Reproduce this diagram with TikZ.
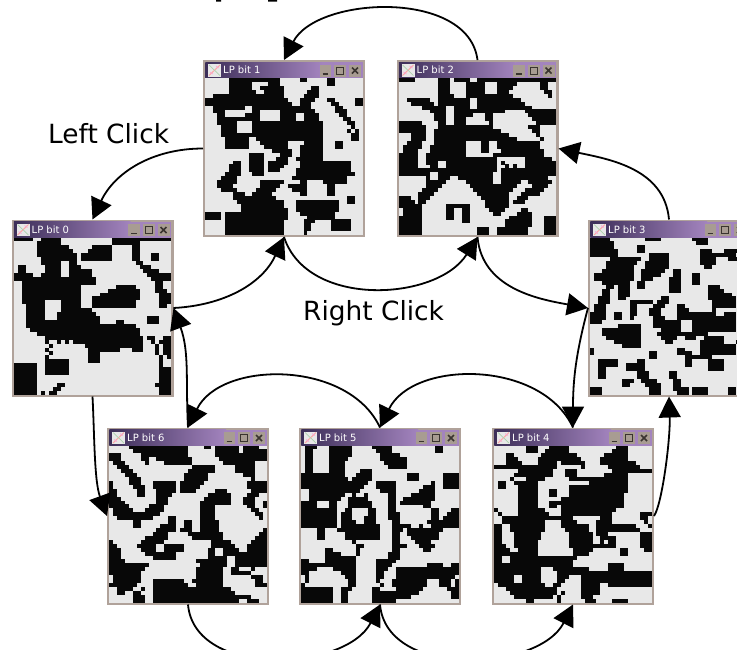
\documentclass[tikz,border=0pt]{standalone}
\usepackage{fontspec}
\setmainfont{DejaVu Sans}
\usetikzlibrary{arrows.meta,calc}
\definecolor{framec}{HTML}{B0A29A}
\definecolor{lightc}{HTML}{E8E8E8}
\definecolor{blackc}{HTML}{080808}
\definecolor{tdark}{HTML}{3C2E58}
\definecolor{tlight}{HTML}{A384BE}
\definecolor{btnc}{HTML}{A89C92}
\definecolor{btnd}{HTML}{3A3430}
\tikzset{
  winframe/.style={draw=none,fill=framec,minimum width=162pt,minimum height=177pt,inner sep=0pt,outer sep=0pt},
  conn/.style={draw=black,line width=1.8pt,-{Triangle[length=21pt,width=22pt]}},
  lab/.style={font=\fontsize{26.4}{30}\selectfont,inner sep=0pt,anchor=base west},
  ttl/.style={font=\fontsize{10}{12}\selectfont,text=white,inner sep=0pt,anchor=base west}
}
\newcommand{\lpwin}[5]{%
  \node[winframe] (#1) at (#2,#3) {};
  \begin{scope}[shift={(#1.north west)}]
    \shade[left color=tdark,right color=tlight] (2.3,-2) rectangle (119,-18);
    \fill[tlight] (119,-2) rectangle (159.7,-18);
    \fill[lightc] (5,-4) rectangle (18,-16.5);
    \draw[red!35!white,line width=1pt] (6,-15.5) -- (17,-5);
    \draw[green!30!gray!50!white,line width=.7pt] (6,-5) -- (17,-15.5);
    \draw[magenta!35!white,line width=.7pt] (7,-12) -- (10,-14) (13,-6) -- (16,-8);
    \node[ttl] (#1t) at (20,-13.6) {#4};
    \fill[btnc] (116.5,-4.5) rectangle (128,-16.5);
    \fill[btnc] (131,-4.5) rectangle (143,-16.5);
    \fill[btnc] (146,-4.5) rectangle (158,-16.5);
    \draw[btnd,line width=1.3pt] (119.5,-14) -- (125,-14);
    \draw[btnd,line width=.9pt] (133.5,-7) rectangle (140.5,-14);
    \draw[btnd,line width=1.6pt] (149,-7.5) -- (155,-13.5) (155,-7.5) -- (149,-13.5);
    \fill[lightc] (2.3,-18) rectangle (159.7,-175.2);
    \foreach \rowruns [count=\rr from 0] in {#5} {
      \foreach \aa/\bb in \rowruns {
        \fill[blackc] ({2.3+\aa*3.93},{-18-\rr*3.93}) rectangle ({2.3+\bb*3.93},{-18-(\rr+1)*3.93-0.06});
      }
    }
  \end{scope}
}
\begin{document}
\begin{tikzpicture}[x=1pt,y=1pt]
\useasboundingbox (0,0) rectangle (737,-649);
\fill[white] (0,0) rectangle (737,-649);
\fill[black] (216,0) rectangle (221,-1.5) (268,-1.5) rectangle (277,0);

\lpwin{w1}{284}{-148.5}{LP bit 1}{
{6/19,24/26,31/33},{6/12,16/19,31/33},{6/12,14/20,27/29},{6/13,15/20,26/29},{2/20,25/29},
{0/21,24/28,31/33,38/40},{0/22,24/27,32/34,38/40},{2/10,12/27,33/35},{2/5,12/14,19/28,33/36},{3/5,10/14,19/23,25/29,34/36},
{3/14,19/23,25/29,35/37},{3/8,12/30,36/38},{4/8,12/30,37/38},{4/8,12/30,36/37,38/39},{4/30,37/39},
{5/11,13/30,37/39},{5/11,14/21,25/30,33/35},{5/11,15/21,24/30,33/35},{17/22,24/30},{11/15,19/22,24/30},
{11/15,18/21,23/30},{7/9,11/15,16/21,24/37},{6/9,11/15,16/20,24/37},{6/9,11/15,16/19,23/37},{5/9,12/15,23/38},
{4/8,22/36},{3/8,14/20,24/26,30/36},{3/7,14/19,21/26,31/33},{4/8,13/18,22/26,31/33},{7/10,12/17,24/26,31/33},
{7/18,36/38},{8/20,23/34,36/38},{9/20,23/34},{9/21,23/34},{0/4,5/21,24/33},
{0/4,5/21,26/33},{5/20,25/28,32/37},{5/20,25/27,32/37},{5/20,25/27,32/37},{5/20,25/26}}

\lpwin{w2}{477.5}{-148.5}{LP bit 2}{
{0/4,10/13,14/18,20/40},{10/13,17/22,25/30,36/38},{10/13,17/22,25/29,36/38},{10/13,17/22,25/28,37/39},{10/14,17/29,38/39},
{2/8,10/18,20/31},{3/9,10/18,20/32},{6/12,14/18,20/34},{8/12,14/27,32/40},{9/12,14/19,22/24,33/40},
{9/12,14/17,22/24,34/40},{0/6,10/12,14/17,23/24,35/40},{0/7,10/24,33/36},{0/7,9/26,34/36},{3/7,9/28,35/36},
{3/7,9/30,36/37},{2/6,9/17,21/23,25/36},{1/6,8/17,21/23,25/36},{1/5,8/17,21/23,26/37},{0/5,7/17,24/37},
{0/5,7/25,32/39},{0/5,7/10,12/25,26/27,32/40},{0/5,8/10,12/25,27/28,29/30,32/40},{0/25,26/40},{0/8,10/24,26/40},
{7/8,10/13,15/24,26/38},{7/12,17/24,26/31,33/39},{7/11,18/30,34/38},{6/10,19/29,32/37},{5/9,20/28,31/36},
{0/3,5/8,21/28,30/33},{0/4,5/7,22/28,29/32},{0/6,12/18,22/28},{1/6,12/14,16/18,23/27,31/33},{1/6,12/14,16/18,24/26,30/34},
{0/6,12/14,16/18,28/34,37/40},{0/6,16/18,27/34,37/40},{0/6,27/34,37/40},{0/6,20/23,25/33,37/40},{0/6,20/23,25/33,37/40}}

\lpwin{w0}{92.5}{-308}{LP bit 0}{
{0/5,7/8,8/12,25/40},{6/12,25/32},{6/14,20/25,30/32},{6/15,19/25,30/32},{6/16,17/25,30/32,35/37},
{7/16,17/25,30/32,35/37},{7/12,14/16,31/33},{1/3,8/12,14/17,32/35},{1/3,8/12,14/20,33/37},{0/5,7/12,14/20,34/38,36/40},
{0/21,35/40},{2/21,36/38},{2/17,26/31,36/38},{2/17,24/32,36/39},{2/17,22/32,37/40},
{2/17,20/32,37/40},{2/8,12/17,20/31,37/40},{3/8,12/17,20/31,37/39},{3/8,12/20},{3/8,11/21},
{3/8,11/22,34/37},{3/22,26/28,34/37},{3/26,26/31},{4/32},{6/32},
{8/33,34/36,38/40},{8/9,11/12,13/14,15/33,35/36,37/40},{9/10,18/33,36/37,38/40},{8/9,19/27,30/33,36/37,38/40},{9/10,19/22,36/37,38/40},
{8/9,19/22,37/38,39/40},{8/14,19/22,37/38},{0/6,8/14,37/38},{0/6,8/14,37/40},{0/6,8/14,37/40},
{0/6,37/40},{0/6,37/40},{0/6,11/13,36/40},{0/6,10/12,37/40},{0/6,7/8,9/11,37/40}}

\lpwin{w3}{669}{-308}{LP bit 3}{
{0/5,14/18,26/30},{0/6,27/30},{0/6,12/14},{0/7,12/14,28/31,34/38},{0/7,15/20,28/37},
{5/13,15/20,28/32,35/38},{4/12,14/20,28/32},{4/11,14/20,29/31},{3/11,13/19,21/23},{1/11,13/18,21/23,26/28},
{1/11,13/16,20/23,26/28},{3/10,12/14,20/23,26/28},{4/6,7/10,12/14,20/23,30/33},{3/5,7/10,20/23,30/34},{3/5,7/10,30/36},
{2/5,7/9,18/20,30/37},{2/5,10/16,17/20,31/37},{1/4,10/12,16/19,22/24,31/37},{1/4,10/12,15/18,22/25,31/32},{0/4,6/8,10/12,15/18,22/32,34/37},
{0/4,6/8,10/11,16/19,22/37},{0/3,16/23,26/37},{7/13,16/23,26/37},{3/13,18/23,26/37},{3/13,17/30},
{4/13,18/22,24/27,29/34},{6/13,19/21,28/34,37/38},{8/13,28/37},{0/1,22/24,28/37},{0/1,15/17,22/26,28/37},
{15/17,24/31},{2/7,12/14,24/26,30/34},{2/7,9/14,24/26,30/34},{2/4,9/14,30/34},{2/4,12/15,20/22},
{2/4,12/15,20/22},{8/11,13/17,21/23},{8/10,14/18,21/23},{0/3,15/18,21/25,26/30,35/37},{0/3,15/18,22/25,26/30,35/37}}

\lpwin{w6}{188}{-516}{LP bit 6}{
{5/20,24/26,27/33,34/38},{6/20,27/33,34/40},{0/3,8/20,27/40},{0/3,8/10,12/21,28/40},{1/4,9/10,14/21,29/37},
{2/5,21/27,32/37},{3/6,20/27,32/37},{4/7,19/25,34/37},{5/8,19/25,36/37},{0/1,5/8,11/17,18/24,35/40},
{0/1,6/9,11/17,18/23,35/40},{0/2,7/9,12/17,18/22,27/30,36/40},{0/2,7/9,12/16,25/31,35/38},{0/3,12/15,24/31,34/37},{0/4,12/15,23/31,34/37,39/40},
{0/5,10/14,23/27,35/37,39/40},{1/6,9/14,23/27,36/38},{1/13,23/27,37/39},{2/11,15/17,23/27,38/39},{6/8,15/17,19/21,23/28},
{6/8,13/17,19/21,23/28},{12/17,18/21,23/28,39/40},{11/15,20/21,21/29,38/40},{9/15,21/29,37/40},{0/1,8/14,26/31,36/40},
{0/2,7/12,14/19,26/32,35/40},{0/3,8/12,14/19,25/27,29/33,35/40},{0/3,9/17,25/27,29/40},{0/3,11/17,25/30,32/40},{0/4,22/30,32/40},
{0/10,23/30,32/40},{0/9,22/29,31/33,36/37},{0/8,22/29,31/36},{1/8,22/29,36/39},{1/8,11/19,21/29,37/39},
{0/7,11/20,22/29,37/40},{2/6,8/9,11/31},{2/4,6/8,11/32},{6/9,11/36},{6/9,11/33,35/38}}

\lpwin{w5}{380}{-516}{LP bit 5}{
{1/4,7/13,18/23,34/36},{1/3,7/13,19/23,34/36},{1/3,7/13,20/25},{1/3,7/12,20/27},{1/3,7/11,21/27},
{1/3,7/11,22/27},{1/3,7/11,15/18},{0/11,14/18,27/30,36/40},{0/12,13/18,27/30,36/40},{0/17,19/24,33/34,36/40},
{0/16,19/24,31/34,36/40},{2/15,20/24,30/34},{2/11,13/14,16/17,22/24,28/34},{2/10,12/17,22/24,26/34},{0/4,7/9,12/18,22/24,25/33},
{0/4,7/9,12/18,22/24,31/33},{0/9,11/13,17/19,22/24,33/35,38/40},{0/9,10/13,17/19,22/25,33/35,37/40},{0/9,10/13,16/19,22/25,33/35,36/40},{0/9,10/14,16/19,23/25,32/40},
{0/9,10/20,23/26,26/28,30/31,33/40},{4/6,9/20,23/26,27/36},{4/6,11/20,23/25,27/35},{4/6,11/20,23/25,28/35},{13/14,23/25,29/33},
{14/16,23/27,30/34},{6/8,14/15,23/25,31/33},{6/10,14/15,22/25},{6/14,22/25},{0/2,6/14,19/24},
{0/14,19/23,32/36,38/40},{0/4,8/14,19/22,24/40},{0/2,10/14,19/21,24/40},{1/2,11/14,19/21,24/39},{1/2,12/14,19/20,23/32,35/38,39/40},
{0/1,12/14,20/21,23/32,35/38,39/40},{0/8,10/13,18/20,24/31,37/40},{0/8,10/12,18/24,24/30,38/40},{0/8,10/12,18/24,24/28,38/40},{0/8,10/12,18/24}}

\lpwin{w4}{573}{-516}{LP bit 4}{
{8/11,14/19,31/34},{8/11,13/19,30/34},{3/5,12/21,28/34},{3/6,11/22,27/34},{3/7,11/16,17/23,27/36},
{0/16,22/23,29/37},{6/15,18/21,30/40},{5/15,18/21,28/34},{4/5,8/13,19/34},{1/3,5/11,24/34},
{1/3,6/11,19/34},{6/11,14/16,19/34},{6/11,14/16,19/33},{6/11,17/33},{6/11,14/17,17/33},
{6/11,14/16,17/33},{0/1,6/13,17/31},{1/2,6/14,17/30,37/40},{2/20,27/30,37/39},{2/13,17/21,26/30,38/39},
{0/2,4/13,17/24,26/36,39/40},{0/2,4/13,18/24,26/37},{0/2,5/12,19/25,26/29,37/40},{0/2,5/12,19/25,27/29,29/31,37/40},{0/2,5/11,19/25,27/28,29/31,37/40},
{0/3,5/11,19/31,37/40},{0/4,6/11,20/25,32/34,38/40},{0/11,20/24,32/34},{0/2,4/21},{0/2,4/20},
{0/20,29/33},{0/12,15/22,22/24,29/33},{0/12,16/40},{0/5,7/12,16/19,22/40},{0/5,7/12,16/18,22/40},
{1/13,15/17,22/27,29/40},{3/16,22/27},{4/16,17/18,22/27},{5/15,16/17,22/25},{8/10,16/17,23/26,30/34}}

\draw[conn] (w2.north) to[out=97,in=63,looseness=.95] (w1.north);
\draw[conn] (w1.west) to[out=180,in=65] (w0.north);
\draw[conn] (w3.north) to[out=95,in=-12] (w2.east);
\draw[conn] (w0.east) to[out=3,in=-115] (w1.south);
\draw[conn] (w1.south) to[out=-72,in=-122] (w2.south);
\draw[conn] (w2.south) to[out=-85,in=170] (w3.west);
\draw[conn] (w3.west) to[out=-105,in=90] (w4.north);
\draw[conn] (w4.east) to[out=55,in=-88,out looseness=.3,in looseness=.9] (w3.south);
\draw[conn] (w4.north) to[out=115,in=64] (w5.north);
\draw[conn] (w5.north) to[out=115,in=64] (w6.north);
\draw[conn] (w6.north) to[out=93,in=-70] (w0.east);
\draw[conn] (w0.south) to[out=-87,in=110,looseness=.8] (w6.west);
\draw[conn] (w6.south) to[out=-85,in=-117] (w5.south);
\draw[conn] (w5.south) to[out=-85,in=-117] (w4.south);

\node[lab] (leftclick) at (48,-143) {Left Click};
\node[lab] (rightclick) at (303,-320) {Right Click};
\end{tikzpicture}
\end{document}
